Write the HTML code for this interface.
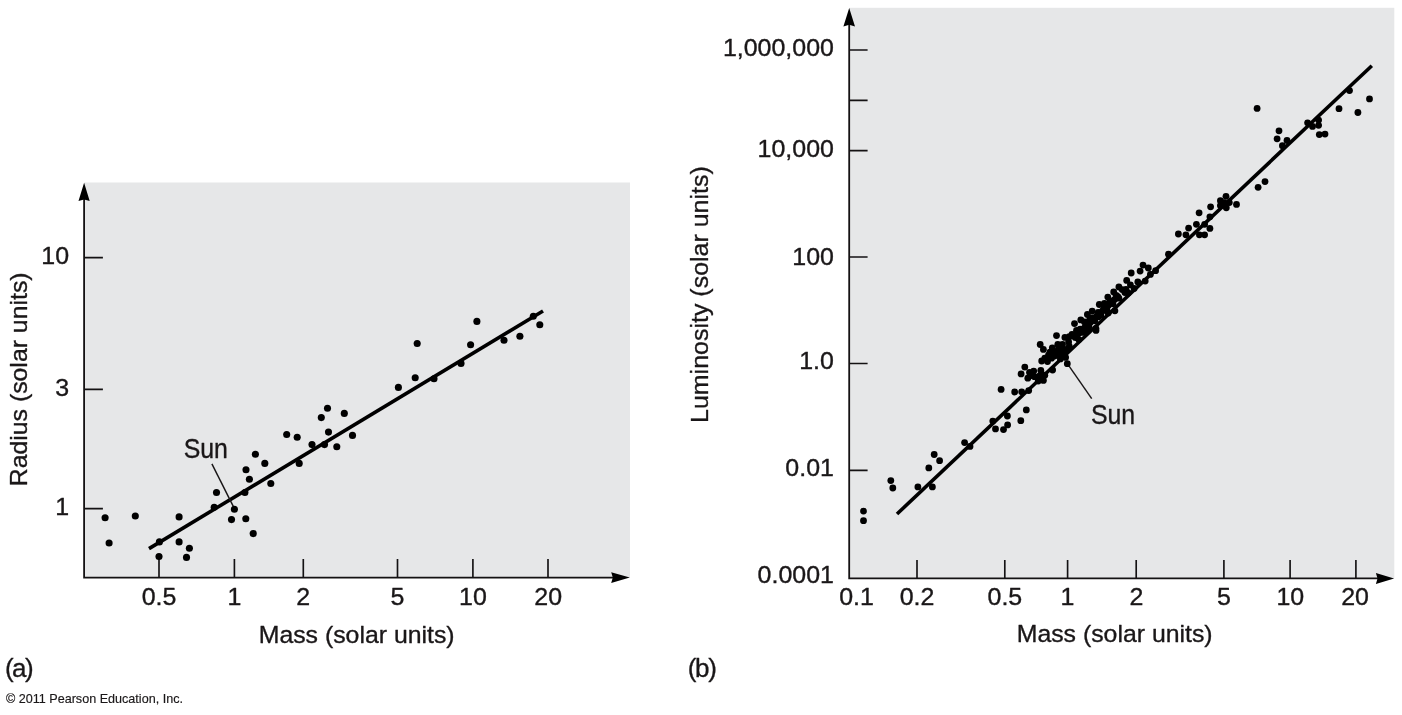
<!DOCTYPE html>
<html lang="en"><head><meta charset="utf-8"><title>Mass-radius and mass-luminosity relations</title>
<style>
html,body{margin:0;padding:0;background:#fff;}
body{width:1402px;height:715px;overflow:hidden;}
svg{display:block;}
text{font-family:"Liberation Sans",Arial,Helvetica,sans-serif;font-size:24.5px;fill:#1a1718;stroke:#1a1718;stroke-width:0.35px;stroke-linejoin:round;}
.sm{stroke-width:0.15px;}
.ax{stroke:#141213;stroke-width:1.8;fill:none;}
.tk{stroke:#141213;stroke-width:1.65;fill:none;}
.fit{stroke:#000;stroke-width:3.6;fill:none;}
.lead{stroke:#1a1718;stroke-width:1.45;fill:none;}
.dots circle{fill:#000;}
.ar path{fill:#000;}
</style></head><body>
<svg width="1402" height="715" viewBox="0 0 1402 715">
<rect width="1402" height="715" fill="#fff"/>

<rect x="84.1" y="182.5" width="545.9" height="395.1" fill="#e6e7e8"/>
<path class="ax" d="M84.1 194.5 V577.6 H618.0"/>
<g class="ar"><path d="M84.10 182.80 L89.70 201.10 L84.10 199.50 L78.50 201.10 Z"/><path d="M629.80 577.60 L611.20 572.20 L612.80 577.60 L611.20 583.00 Z"/></g>
<path class="tk" d="M159.0 577.6 v-18.6 M234.4 577.6 v-18.6 M303.3 577.6 v-18.6 M397.5 577.6 v-18.6 M472.9 577.6 v-18.6 M548.0 577.6 v-18.6 M84.1 257.6 h18.8 M84.1 389.4 h18.8 M84.1 508.6 h18.8"/>
<line class="fit" x1="149.0" y1="548.6" x2="543.0" y2="311.0"/>
<line class="lead" x1="211.9" y1="463.9" x2="234.4" y2="508.6"/>
<g class="dots"><circle cx="105.1" cy="517.8" r="3.55"/>
<circle cx="109.1" cy="543.0" r="3.55"/>
<circle cx="135.3" cy="516.0" r="3.55"/>
<circle cx="179.1" cy="516.9" r="3.55"/>
<circle cx="159.4" cy="541.9" r="3.55"/>
<circle cx="159.0" cy="556.5" r="3.55"/>
<circle cx="179.1" cy="541.9" r="3.55"/>
<circle cx="189.4" cy="548.2" r="3.55"/>
<circle cx="186.5" cy="557.4" r="3.55"/>
<circle cx="214.2" cy="507.2" r="3.55"/>
<circle cx="216.5" cy="492.5" r="3.55"/>
<circle cx="234.4" cy="509.3" r="3.55"/>
<circle cx="231.5" cy="519.6" r="3.55"/>
<circle cx="245.8" cy="518.7" r="3.55"/>
<circle cx="253.2" cy="533.6" r="3.55"/>
<circle cx="244.9" cy="492.5" r="3.55"/>
<circle cx="249.4" cy="479.3" r="3.55"/>
<circle cx="246.0" cy="469.7" r="3.55"/>
<circle cx="255.4" cy="454.2" r="3.55"/>
<circle cx="264.8" cy="463.4" r="3.55"/>
<circle cx="270.8" cy="483.5" r="3.55"/>
<circle cx="286.7" cy="434.5" r="3.55"/>
<circle cx="297.2" cy="437.2" r="3.55"/>
<circle cx="299.2" cy="463.4" r="3.55"/>
<circle cx="312.0" cy="444.6" r="3.55"/>
<circle cx="324.5" cy="444.6" r="3.55"/>
<circle cx="328.5" cy="432.1" r="3.55"/>
<circle cx="336.8" cy="446.8" r="3.55"/>
<circle cx="352.5" cy="435.4" r="3.55"/>
<circle cx="321.3" cy="417.6" r="3.55"/>
<circle cx="327.5" cy="408.2" r="3.55"/>
<circle cx="344.3" cy="413.4" r="3.55"/>
<circle cx="398.4" cy="387.4" r="3.55"/>
<circle cx="415.2" cy="377.8" r="3.55"/>
<circle cx="417.2" cy="343.5" r="3.55"/>
<circle cx="434.0" cy="378.7" r="3.55"/>
<circle cx="461.0" cy="363.4" r="3.55"/>
<circle cx="470.6" cy="344.7" r="3.55"/>
<circle cx="476.9" cy="321.4" r="3.55"/>
<circle cx="504.0" cy="340.2" r="3.55"/>
<circle cx="519.9" cy="336.2" r="3.55"/>
<circle cx="533.3" cy="316.2" r="3.55"/>
<circle cx="539.8" cy="324.7" r="3.55"/></g>
<text transform="translate(159.0 604.6) scale(1.04 1)" text-anchor="middle" style="font-size:24.0px">0.5</text>
<text transform="translate(234.4 604.6) scale(1.04 1)" text-anchor="middle" style="font-size:24.0px">1</text>
<text transform="translate(303.3 604.6) scale(1.04 1)" text-anchor="middle" style="font-size:24.0px">2</text>
<text transform="translate(397.5 604.6) scale(1.04 1)" text-anchor="middle" style="font-size:24.0px">5</text>
<text transform="translate(472.9 604.6) scale(1.04 1)" text-anchor="middle" style="font-size:24.0px">10</text>
<text transform="translate(548.2 604.6) scale(1.04 1)" text-anchor="middle" style="font-size:24.0px">20</text>
<text transform="translate(69.0 263.9) scale(1.04 1)" text-anchor="end" style="font-size:24.0px">10</text>
<text transform="translate(69.0 395.7) scale(1.04 1)" text-anchor="end" style="font-size:24.0px">3</text>
<text transform="translate(69.0 514.8) scale(1.04 1)" text-anchor="end" style="font-size:24.0px">1</text>
<text transform="translate(183.7 458.0) scale(0.927 1)" style="font-size:26.8px">Sun</text>
<text transform="translate(258.7 642.5) scale(1.014 1)">Mass (solar units)</text>
<text transform="translate(26.8 486.3) rotate(-90) scale(1.014 1)">Radius (solar units)</text>
<text transform="translate(4.9 677.4)" textLength="28.8" lengthAdjust="spacing" style="font-size:26px">(a)</text>
<text transform="translate(5.9 702.8)" style="font-size:12.6px" class="sm">© 2011 Pearson Education, Inc.</text>
<rect x="849.2" y="7.8" width="545.0999999999999" height="570.6" fill="#e6e7e8"/>
<path class="ax" d="M849.2 19.8 V578.4 H1382.3"/>
<g class="ar"><path d="M849.20 7.90 L855.00 26.40 L849.20 24.80 L843.40 26.40 Z"/><path d="M1394.10 578.40 L1375.90 572.90 L1377.50 578.40 L1375.90 583.90 Z"/></g>
<path class="tk" d="M917.0 578.4 v-18.4 M1004.8 578.4 v-18.4 M1067.6 578.4 v-18.4 M1136.2 578.4 v-18.4 M1223.9 578.4 v-18.4 M1290.1 578.4 v-18.4 M1355.9 578.4 v-18.4 M849.2 50.0 h18.4 M849.2 100.4 h18.4 M849.2 150.6 h18.4 M849.2 257.0 h18.4 M849.2 363.5 h18.4 M849.2 470.4 h18.4"/>
<line class="fit" x1="897.0" y1="514.0" x2="1371.8" y2="65.7"/>
<line class="lead" x1="1068.4" y1="365.2" x2="1091.7" y2="398.7"/>
<g class="dots"><circle cx="863.5" cy="511.1" r="3.4"/>
<circle cx="863.5" cy="520.7" r="3.4"/>
<circle cx="890.8" cy="480.6" r="3.4"/>
<circle cx="892.8" cy="488.0" r="3.4"/>
<circle cx="917.9" cy="486.9" r="3.4"/>
<circle cx="932.4" cy="486.9" r="3.4"/>
<circle cx="928.8" cy="467.9" r="3.4"/>
<circle cx="934.2" cy="454.5" r="3.4"/>
<circle cx="939.6" cy="460.7" r="3.4"/>
<circle cx="964.6" cy="442.6" r="3.4"/>
<circle cx="970.0" cy="446.4" r="3.4"/>
<circle cx="992.8" cy="421.1" r="3.4"/>
<circle cx="995.5" cy="428.9" r="3.4"/>
<circle cx="1003.5" cy="429.6" r="3.4"/>
<circle cx="1007.6" cy="424.9" r="3.4"/>
<circle cx="1020.8" cy="420.7" r="3.4"/>
<circle cx="1001.1" cy="389.4" r="3.4"/>
<circle cx="1014.7" cy="392.0" r="3.4"/>
<circle cx="1021.7" cy="391.8" r="3.4"/>
<circle cx="1028.7" cy="390.6" r="3.4"/>
<circle cx="1026.3" cy="409.9" r="3.4"/>
<circle cx="1007.4" cy="416.0" r="3.4"/>
<circle cx="1067.3" cy="363.7" r="3.4"/>
<circle cx="1056.5" cy="335.6" r="3.4"/>
<circle cx="1040.2" cy="344.5" r="3.4"/>
<circle cx="1043.4" cy="349.4" r="3.4"/>
<circle cx="1041.7" cy="361.0" r="3.4"/>
<circle cx="1096.0" cy="330.4" r="3.4"/>
<circle cx="1024.8" cy="367.1" r="3.4"/>
<circle cx="1021.1" cy="373.9" r="3.4"/>
<circle cx="1027.8" cy="378.2" r="3.4"/>
<circle cx="1033.7" cy="371.1" r="3.4"/>
<circle cx="1040.8" cy="370.4" r="3.4"/>
<circle cx="1052.6" cy="370.0" r="3.4"/>
<circle cx="1034.5" cy="376.7" r="3.4"/>
<circle cx="1039.7" cy="376.0" r="3.4"/>
<circle cx="1044.8" cy="375.2" r="3.4"/>
<circle cx="1043.4" cy="380.4" r="3.4"/>
<circle cx="1038.2" cy="381.1" r="3.4"/>
<circle cx="1052.3" cy="347.8" r="3.4"/>
<circle cx="1057.8" cy="344.5" r="3.4"/>
<circle cx="1064.9" cy="337.4" r="3.4"/>
<circle cx="1069.3" cy="336.7" r="3.4"/>
<circle cx="1075.2" cy="337.4" r="3.4"/>
<circle cx="1068.6" cy="341.9" r="3.4"/>
<circle cx="1061.9" cy="348.5" r="3.4"/>
<circle cx="1054.5" cy="352.2" r="3.4"/>
<circle cx="1048.5" cy="355.2" r="3.4"/>
<circle cx="1044.8" cy="358.2" r="3.4"/>
<circle cx="1051.5" cy="358.2" r="3.4"/>
<circle cx="1058.2" cy="355.2" r="3.4"/>
<circle cx="1064.9" cy="352.2" r="3.4"/>
<circle cx="1065.6" cy="357.4" r="3.4"/>
<circle cx="1060.4" cy="358.9" r="3.4"/>
<circle cx="1069.3" cy="346.3" r="3.4"/>
<circle cx="1078.9" cy="339.6" r="3.4"/>
<circle cx="1082.6" cy="332.2" r="3.4"/>
<circle cx="1087.8" cy="330.7" r="3.4"/>
<circle cx="1074.5" cy="323.6" r="3.4"/>
<circle cx="1080.8" cy="319.9" r="3.4"/>
<circle cx="1087.4" cy="314.5" r="3.4"/>
<circle cx="1092.2" cy="311.1" r="3.4"/>
<circle cx="1099.3" cy="304.5" r="3.4"/>
<circle cx="1107.8" cy="297.1" r="3.4"/>
<circle cx="1113.7" cy="291.9" r="3.4"/>
<circle cx="1118.9" cy="287.0" r="3.4"/>
<circle cx="1126.7" cy="280.4" r="3.4"/>
<circle cx="1131.2" cy="273.0" r="3.4"/>
<circle cx="1140.1" cy="271.1" r="3.4"/>
<circle cx="1145.2" cy="281.1" r="3.4"/>
<circle cx="1150.4" cy="274.4" r="3.4"/>
<circle cx="1114.9" cy="310.8" r="3.4"/>
<circle cx="1098.5" cy="316.7" r="3.4"/>
<circle cx="1089.7" cy="319.7" r="3.4"/>
<circle cx="1104.5" cy="308.5" r="3.4"/>
<circle cx="1111.9" cy="301.9" r="3.4"/>
<circle cx="1117.8" cy="296.7" r="3.4"/>
<circle cx="1108.2" cy="313.0" r="3.4"/>
<circle cx="1126.0" cy="289.3" r="3.4"/>
<circle cx="1130.4" cy="284.8" r="3.4"/>
<circle cx="1137.8" cy="281.9" r="3.4"/>
<circle cx="1134.1" cy="288.5" r="3.4"/>
<circle cx="1128.2" cy="293.0" r="3.4"/>
<circle cx="1104.5" cy="303.4" r="3.4"/>
<circle cx="1084.5" cy="321.9" r="3.4"/>
<circle cx="1155.6" cy="270.7" r="3.4"/>
<circle cx="1143.0" cy="265.1" r="3.4"/>
<circle cx="1148.3" cy="268.0" r="3.4"/>
<circle cx="1095.9" cy="328.3" r="3.4"/>
<circle cx="1168.5" cy="254.2" r="3.4"/>
<circle cx="1178.4" cy="234.0" r="3.4"/>
<circle cx="1185.9" cy="234.8" r="3.4"/>
<circle cx="1188.6" cy="228.1" r="3.4"/>
<circle cx="1196.4" cy="224.3" r="3.4"/>
<circle cx="1204.6" cy="224.3" r="3.4"/>
<circle cx="1209.9" cy="228.4" r="3.4"/>
<circle cx="1199.4" cy="234.8" r="3.4"/>
<circle cx="1204.6" cy="234.8" r="3.4"/>
<circle cx="1199.1" cy="212.8" r="3.4"/>
<circle cx="1209.9" cy="216.8" r="3.4"/>
<circle cx="1210.6" cy="206.8" r="3.4"/>
<circle cx="1220.4" cy="200.7" r="3.4"/>
<circle cx="1226.0" cy="196.3" r="3.4"/>
<circle cx="1220.4" cy="205.6" r="3.4"/>
<circle cx="1226.3" cy="207.8" r="3.4"/>
<circle cx="1229.3" cy="202.6" r="3.4"/>
<circle cx="1224.1" cy="202.6" r="3.4"/>
<circle cx="1236.5" cy="204.4" r="3.4"/>
<circle cx="1258.1" cy="187.3" r="3.4"/>
<circle cx="1265.0" cy="181.6" r="3.4"/>
<circle cx="1257.1" cy="108.4" r="3.4"/>
<circle cx="1279.0" cy="130.8" r="3.4"/>
<circle cx="1277.1" cy="138.8" r="3.4"/>
<circle cx="1287.0" cy="140.5" r="3.4"/>
<circle cx="1282.4" cy="145.7" r="3.4"/>
<circle cx="1307.6" cy="122.8" r="3.4"/>
<circle cx="1312.5" cy="126.4" r="3.4"/>
<circle cx="1318.6" cy="120.1" r="3.4"/>
<circle cx="1318.6" cy="125.3" r="3.4"/>
<circle cx="1319.3" cy="134.6" r="3.4"/>
<circle cx="1325.0" cy="134.1" r="3.4"/>
<circle cx="1339.0" cy="108.7" r="3.4"/>
<circle cx="1349.5" cy="90.6" r="3.4"/>
<circle cx="1357.9" cy="112.5" r="3.4"/>
<circle cx="1369.5" cy="98.9" r="3.4"/>
<circle cx="1076.9" cy="337.8" r="3.4"/>
<circle cx="1074.2" cy="334.9" r="3.4"/>
<circle cx="1082.9" cy="332.2" r="3.4"/>
<circle cx="1080.2" cy="329.2" r="3.4"/>
<circle cx="1088.9" cy="326.5" r="3.4"/>
<circle cx="1086.2" cy="323.6" r="3.4"/>
<circle cx="1094.9" cy="320.8" r="3.4"/>
<circle cx="1092.2" cy="317.9" r="3.4"/>
<circle cx="1100.9" cy="315.2" r="3.4"/>
<circle cx="1098.2" cy="312.3" r="3.4"/>
<circle cx="1106.9" cy="309.5" r="3.4"/>
<circle cx="1104.2" cy="306.6" r="3.4"/>
<circle cx="1112.9" cy="303.8" r="3.4"/>
<circle cx="1110.2" cy="300.9" r="3.4"/>
<circle cx="1118.9" cy="298.2" r="3.4"/>
<circle cx="1116.2" cy="295.3" r="3.4"/>
<circle cx="1124.9" cy="292.5" r="3.4"/>
<circle cx="1122.2" cy="289.6" r="3.4"/>
<circle cx="1078.5" cy="333.5" r="3.4"/>
<circle cx="1084.5" cy="327.9" r="3.4"/>
<circle cx="1090.5" cy="322.2" r="3.4"/>
<circle cx="1096.5" cy="316.5" r="3.4"/>
<circle cx="1102.5" cy="310.9" r="3.4"/>
<circle cx="1108.5" cy="305.2" r="3.4"/>
<circle cx="1114.5" cy="299.6" r="3.4"/>
<circle cx="1056.7" cy="353.7" r="3.4"/>
<circle cx="1061.9" cy="353.7" r="3.4"/>
<circle cx="1058.2" cy="350.0" r="3.4"/>
<circle cx="1054.5" cy="356.0" r="3.4"/>
<circle cx="1050.0" cy="352.2" r="3.4"/>
<circle cx="1066.3" cy="349.3" r="3.4"/>
<circle cx="1029.5" cy="372.5" r="3.4"/>
<circle cx="1031.0" cy="375.5" r="3.4"/>
<circle cx="1047.5" cy="361.5" r="3.4"/>
<circle cx="1062.5" cy="344.5" r="3.4"/>
<circle cx="1072.0" cy="334.5" r="3.4"/>
<circle cx="1076.5" cy="330.5" r="3.4"/></g>
<text transform="translate(856.5 604.6) scale(1.04 1)" text-anchor="middle" style="font-size:24.0px">0.1</text>
<text transform="translate(917.0 604.6) scale(1.04 1)" text-anchor="middle" style="font-size:24.0px">0.2</text>
<text transform="translate(1004.9 604.6) scale(1.04 1)" text-anchor="middle" style="font-size:24.0px">0.5</text>
<text transform="translate(1067.5 604.6) scale(1.04 1)" text-anchor="middle" style="font-size:24.0px">1</text>
<text transform="translate(1136.4 604.6) scale(1.04 1)" text-anchor="middle" style="font-size:24.0px">2</text>
<text transform="translate(1223.9 604.6) scale(1.04 1)" text-anchor="middle" style="font-size:24.0px">5</text>
<text transform="translate(1290.3 604.6) scale(1.04 1)" text-anchor="middle" style="font-size:24.0px">10</text>
<text transform="translate(1355.0 604.6) scale(1.04 1)" text-anchor="middle" style="font-size:24.0px">20</text>
<text transform="translate(833.9 55.8) scale(1.04 1)" text-anchor="end" style="font-size:24.0px">1,000,000</text>
<text transform="translate(833.9 156.5) scale(1.04 1)" text-anchor="end" style="font-size:24.0px">10,000</text>
<text transform="translate(833.9 264.8) scale(1.04 1)" text-anchor="end" style="font-size:24.0px">100</text>
<text transform="translate(833.9 369.3) scale(1.04 1)" text-anchor="end" style="font-size:24.0px">1.0</text>
<text transform="translate(833.9 476.2) scale(1.04 1)" text-anchor="end" style="font-size:24.0px">0.01</text>
<text transform="translate(833.9 582.6) scale(1.04 1)" text-anchor="end" style="font-size:24.0px">0.0001</text>
<text transform="translate(1091.0 423.5) scale(0.927 1)" style="font-size:26.8px">Sun</text>
<text transform="translate(1016.7 642.3) scale(1.014 1)">Mass (solar units)</text>
<text transform="translate(708.2 423.0) rotate(-90) scale(1.02 1)">Luminosity (solar units)</text>
<text transform="translate(687.7 676.9)" textLength="29.2" lengthAdjust="spacing" style="font-size:26px">(b)</text>
</svg>
</body></html>
